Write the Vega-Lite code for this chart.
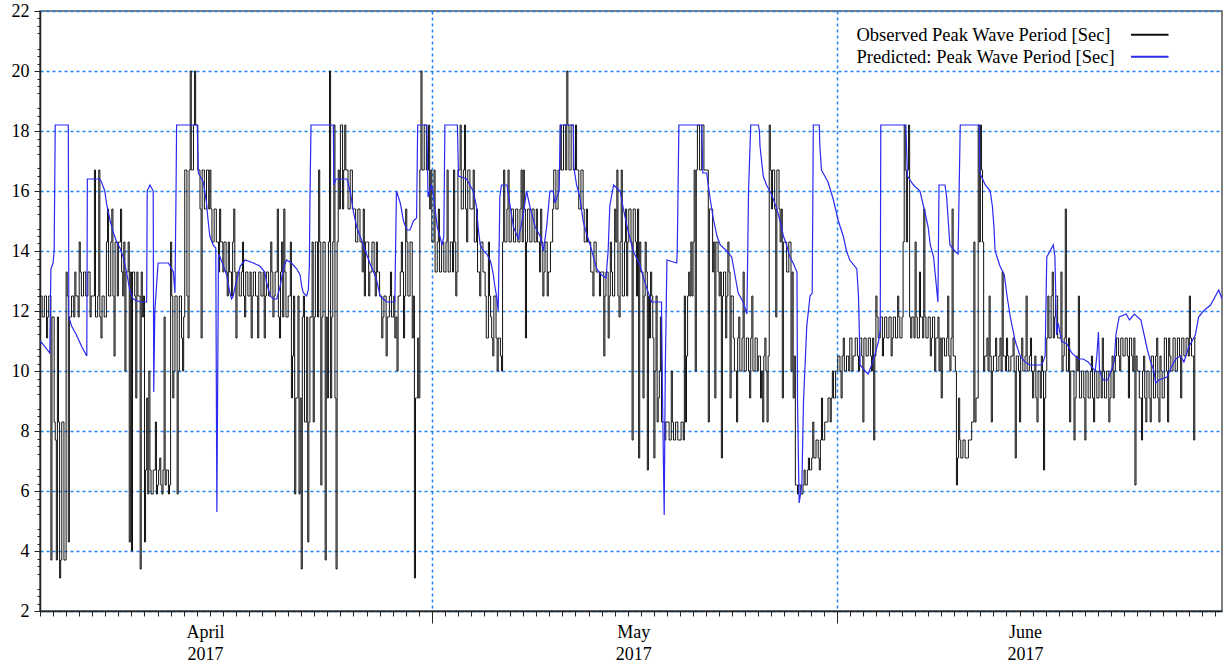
{
"$schema":"https://vega.github.io/schema/vega-lite/v6.json",
"width":1182,"height":600,
"autosize":{"type":"none"},
"padding":{"left":40,"top":11,"right":3,"bottom":58},
"background":"white",
"config":{"view":{"stroke":"#555555","strokeWidth":1.5},"font":"Liberation Serif"},
"datasets":{
"obs":[
{"t":0,"v":12.5},{"t":2,"v":12.5},{"t":4,"v":11.8},{"t":6,"v":11.8},{"t":8,"v":12.5},{"t":10,"v":12.5},{"t":12,"v":11.1},{"t":14,"v":11.8},{"t":16,"v":12.5},{"t":18,"v":12.5},{"t":20,"v":3.7},{"t":22,"v":11.8},
{"t":24,"v":11.8},{"t":26,"v":8.3},{"t":28,"v":7.7},{"t":30,"v":3.7},{"t":32,"v":11.8},{"t":34,"v":8.3},{"t":36,"v":3.1},{"t":38,"v":3.7},{"t":40,"v":8.3},{"t":42,"v":8.3},{"t":44,"v":3.7},{"t":46,"v":3.7},
{"t":48,"v":13.3},{"t":50,"v":12.5},{"t":52,"v":4.3},{"t":54,"v":11.8},{"t":56,"v":11.8},{"t":58,"v":12.5},{"t":60,"v":12.5},{"t":62,"v":11.8},{"t":64,"v":13.3},{"t":66,"v":12.5},{"t":68,"v":12.5},{"t":70,"v":11.8},
{"t":72,"v":14.3},{"t":74,"v":13.3},{"t":76,"v":12.5},{"t":78,"v":12.5},{"t":80,"v":13.3},{"t":82,"v":13.3},{"t":84,"v":12.5},{"t":86,"v":12.5},{"t":88,"v":13.3},{"t":90,"v":13.3},{"t":92,"v":11.8},{"t":94,"v":12.5},
{"t":96,"v":12.5},{"t":98,"v":12.5},{"t":100,"v":16.7},{"t":102,"v":11.8},{"t":104,"v":11.8},{"t":106,"v":12.5},{"t":108,"v":16.7},{"t":110,"v":11.8},{"t":112,"v":11.1},{"t":114,"v":12.5},{"t":116,"v":12.5},{"t":118,"v":11.8},
{"t":120,"v":11.8},{"t":122,"v":14.3},{"t":124,"v":15.4},{"t":126,"v":12.5},{"t":128,"v":12.5},{"t":130,"v":14.3},{"t":132,"v":15.4},{"t":134,"v":12.5},{"t":136,"v":10.5},{"t":138,"v":14.3},{"t":140,"v":14.3},{"t":142,"v":12.5},
{"t":144,"v":14.3},{"t":146,"v":14.3},{"t":148,"v":15.4},{"t":150,"v":13.3},{"t":152,"v":12.5},{"t":154,"v":14.3},{"t":156,"v":10.0},{"t":158,"v":13.3},{"t":160,"v":13.3},{"t":162,"v":14.3},{"t":164,"v":4.3},{"t":166,"v":13.3},
{"t":168,"v":4.0},{"t":170,"v":13.3},{"t":172,"v":13.3},{"t":174,"v":12.5},{"t":176,"v":9.1},{"t":178,"v":13.3},{"t":180,"v":12.5},{"t":182,"v":12.5},{"t":184,"v":3.4},{"t":186,"v":13.3},{"t":188,"v":11.8},{"t":190,"v":12.5},
{"t":192,"v":4.3},{"t":194,"v":6.7},{"t":196,"v":9.1},{"t":198,"v":5.9},{"t":200,"v":10.0},{"t":202,"v":6.7},{"t":204,"v":5.9},{"t":206,"v":5.9},{"t":208,"v":6.7},{"t":210,"v":6.7},{"t":212,"v":8.3},{"t":214,"v":5.9},
{"t":216,"v":6.2},{"t":218,"v":6.7},{"t":220,"v":7.1},{"t":222,"v":6.2},{"t":224,"v":5.9},{"t":226,"v":6.7},{"t":228,"v":11.8},{"t":230,"v":6.2},{"t":232,"v":6.7},{"t":234,"v":6.7},{"t":236,"v":5.9},{"t":238,"v":6.2},
{"t":240,"v":14.3},{"t":242,"v":12.5},{"t":244,"v":9.1},{"t":246,"v":10.0},{"t":248,"v":12.5},{"t":250,"v":12.5},{"t":252,"v":5.9},{"t":254,"v":10.0},{"t":256,"v":12.5},{"t":258,"v":12.5},{"t":260,"v":11.1},{"t":262,"v":10.0},
{"t":264,"v":11.8},{"t":266,"v":16.7},{"t":268,"v":16.7},{"t":270,"v":12.5},{"t":272,"v":11.1},{"t":274,"v":16.7},{"t":276,"v":20.0},{"t":278,"v":16.7},{"t":280,"v":16.7},{"t":282,"v":18.2},{"t":284,"v":20.0},{"t":286,"v":18.2},
{"t":288,"v":18.2},{"t":290,"v":16.7},{"t":292,"v":16.7},{"t":294,"v":15.4},{"t":296,"v":11.1},{"t":298,"v":16.7},{"t":300,"v":16.7},{"t":302,"v":15.4},{"t":304,"v":15.4},{"t":306,"v":16.7},{"t":308,"v":16.7},{"t":310,"v":15.4},
{"t":312,"v":16.7},{"t":314,"v":15.4},{"t":316,"v":14.3},{"t":318,"v":14.3},{"t":320,"v":15.4},{"t":322,"v":15.4},{"t":324,"v":14.3},{"t":326,"v":14.3},{"t":328,"v":13.3},{"t":330,"v":15.4},{"t":332,"v":14.3},{"t":334,"v":14.3},
{"t":336,"v":13.3},{"t":338,"v":14.3},{"t":340,"v":14.3},{"t":342,"v":13.3},{"t":344,"v":12.5},{"t":346,"v":14.3},{"t":348,"v":13.3},{"t":350,"v":13.3},{"t":352,"v":12.5},{"t":354,"v":14.3},{"t":356,"v":15.4},{"t":358,"v":13.3},
{"t":360,"v":11.1},{"t":362,"v":13.3},{"t":364,"v":13.3},{"t":366,"v":12.5},{"t":368,"v":12.5},{"t":370,"v":13.3},{"t":372,"v":14.3},{"t":374,"v":12.5},{"t":376,"v":11.8},{"t":378,"v":13.3},{"t":380,"v":13.3},{"t":382,"v":12.5},
{"t":384,"v":12.5},{"t":386,"v":13.3},{"t":388,"v":11.1},{"t":390,"v":12.5},{"t":392,"v":13.3},{"t":394,"v":13.3},{"t":396,"v":12.5},{"t":398,"v":12.5},{"t":400,"v":11.1},{"t":402,"v":13.3},{"t":404,"v":13.3},{"t":406,"v":12.5},
{"t":408,"v":12.5},{"t":410,"v":13.3},{"t":412,"v":11.1},{"t":414,"v":12.5},{"t":416,"v":13.3},{"t":418,"v":13.3},{"t":420,"v":12.5},{"t":422,"v":12.5},{"t":424,"v":14.3},{"t":426,"v":13.3},{"t":428,"v":11.8},{"t":430,"v":12.5},
{"t":432,"v":13.3},{"t":434,"v":13.3},{"t":436,"v":15.4},{"t":438,"v":11.8},{"t":440,"v":11.1},{"t":442,"v":13.3},{"t":444,"v":14.3},{"t":446,"v":11.8},{"t":448,"v":15.4},{"t":450,"v":13.3},{"t":452,"v":11.8},{"t":454,"v":11.8},
{"t":456,"v":12.5},{"t":458,"v":12.5},{"t":460,"v":14.3},{"t":462,"v":9.1},{"t":464,"v":10.5},{"t":466,"v":12.5},{"t":468,"v":5.9},{"t":470,"v":9.1},{"t":472,"v":9.1},{"t":474,"v":12.5},{"t":476,"v":5.9},{"t":478,"v":9.1},
{"t":480,"v":3.4},{"t":482,"v":11.8},{"t":484,"v":12.5},{"t":486,"v":8.3},{"t":488,"v":8.3},{"t":490,"v":11.8},{"t":492,"v":4.3},{"t":494,"v":8.3},{"t":496,"v":11.8},{"t":498,"v":11.8},{"t":500,"v":14.3},{"t":502,"v":8.3},
{"t":504,"v":11.8},{"t":506,"v":14.3},{"t":508,"v":14.3},{"t":510,"v":11.8},{"t":512,"v":16.7},{"t":514,"v":14.3},{"t":516,"v":6.2},{"t":518,"v":11.8},{"t":520,"v":14.3},{"t":522,"v":14.3},{"t":524,"v":3.7},{"t":526,"v":11.8},
{"t":528,"v":9.1},{"t":530,"v":14.3},{"t":532,"v":20.0},{"t":534,"v":9.1},{"t":536,"v":11.8},{"t":538,"v":14.3},{"t":540,"v":18.2},{"t":542,"v":9.1},{"t":544,"v":3.4},{"t":546,"v":14.3},{"t":548,"v":16.7},{"t":550,"v":15.4},
{"t":552,"v":18.2},{"t":554,"v":18.2},{"t":556,"v":15.4},{"t":558,"v":16.7},{"t":560,"v":18.2},{"t":562,"v":16.7},{"t":564,"v":16.7},{"t":566,"v":15.4},{"t":568,"v":15.4},{"t":570,"v":16.7},{"t":572,"v":16.7},{"t":574,"v":15.4},
{"t":576,"v":15.4},{"t":578,"v":15.4},{"t":580,"v":14.3},{"t":582,"v":14.3},{"t":584,"v":15.4},{"t":586,"v":15.4},{"t":588,"v":14.3},{"t":590,"v":14.3},{"t":592,"v":13.3},{"t":594,"v":15.4},{"t":596,"v":12.5},{"t":598,"v":14.3},
{"t":600,"v":14.3},{"t":602,"v":14.3},{"t":604,"v":12.5},{"t":606,"v":13.3},{"t":608,"v":13.3},{"t":610,"v":14.3},{"t":612,"v":14.3},{"t":614,"v":13.3},{"t":616,"v":12.5},{"t":618,"v":14.3},{"t":620,"v":13.3},{"t":622,"v":13.3},
{"t":624,"v":12.5},{"t":626,"v":12.5},{"t":628,"v":11.1},{"t":630,"v":11.8},{"t":632,"v":12.5},{"t":634,"v":12.5},{"t":636,"v":10.5},{"t":638,"v":11.8},{"t":640,"v":11.8},{"t":642,"v":12.5},{"t":644,"v":13.3},{"t":646,"v":11.8},
{"t":648,"v":11.8},{"t":650,"v":12.5},{"t":652,"v":11.1},{"t":654,"v":11.8},{"t":656,"v":10.0},{"t":658,"v":12.5},{"t":660,"v":12.5},{"t":662,"v":13.3},{"t":664,"v":14.3},{"t":666,"v":13.3},{"t":668,"v":11.1},{"t":670,"v":12.5},
{"t":672,"v":15.4},{"t":674,"v":14.3},{"t":676,"v":12.5},{"t":678,"v":12.5},{"t":680,"v":14.3},{"t":682,"v":14.3},{"t":684,"v":11.1},{"t":686,"v":12.5},{"t":688,"v":3.1},{"t":690,"v":9.1},{"t":692,"v":9.1},{"t":694,"v":11.1},
{"t":696,"v":9.1},{"t":698,"v":16.7},{"t":700,"v":20.0},{"t":702,"v":16.7},{"t":704,"v":16.7},{"t":706,"v":18.2},{"t":708,"v":18.2},{"t":710,"v":16.7},{"t":712,"v":16.7},{"t":714,"v":18.2},{"t":716,"v":15.4},{"t":718,"v":16.7},
{"t":720,"v":14.3},{"t":722,"v":14.3},{"t":724,"v":16.7},{"t":726,"v":13.3},{"t":728,"v":13.3},{"t":730,"v":14.3},{"t":732,"v":15.4},{"t":734,"v":13.3},{"t":736,"v":13.3},{"t":738,"v":14.3},{"t":740,"v":14.3},{"t":742,"v":13.3},
{"t":744,"v":13.3},{"t":746,"v":14.3},{"t":748,"v":16.7},{"t":750,"v":13.3},{"t":752,"v":13.3},{"t":754,"v":14.3},{"t":756,"v":14.3},{"t":758,"v":13.3},{"t":760,"v":16.7},{"t":762,"v":14.3},{"t":764,"v":12.5},{"t":766,"v":13.3},
{"t":768,"v":16.7},{"t":770,"v":16.7},{"t":772,"v":18.2},{"t":774,"v":15.4},{"t":776,"v":15.4},{"t":778,"v":16.7},{"t":780,"v":18.2},{"t":782,"v":15.4},{"t":784,"v":14.3},{"t":786,"v":16.7},{"t":788,"v":16.7},{"t":790,"v":15.4},
{"t":792,"v":15.4},{"t":794,"v":15.4},{"t":796,"v":16.7},{"t":798,"v":14.3},{"t":800,"v":14.3},{"t":802,"v":15.4},{"t":804,"v":13.3},{"t":806,"v":13.3},{"t":808,"v":12.5},{"t":810,"v":14.3},{"t":812,"v":14.3},{"t":814,"v":13.3},
{"t":816,"v":13.3},{"t":818,"v":12.5},{"t":820,"v":11.1},{"t":822,"v":11.1},{"t":824,"v":14.3},{"t":826,"v":12.5},{"t":828,"v":11.8},{"t":830,"v":11.1},{"t":832,"v":10.5},{"t":834,"v":12.5},{"t":836,"v":12.5},{"t":838,"v":11.1},
{"t":840,"v":10.0},{"t":842,"v":11.1},{"t":844,"v":11.1},{"t":846,"v":10.5},{"t":848,"v":10.0},{"t":850,"v":14.3},{"t":852,"v":16.7},{"t":854,"v":14.3},{"t":856,"v":14.3},{"t":858,"v":15.4},{"t":860,"v":16.7},{"t":862,"v":14.3},
{"t":864,"v":14.3},{"t":866,"v":15.4},{"t":868,"v":15.4},{"t":870,"v":14.3},{"t":872,"v":14.3},{"t":874,"v":15.4},{"t":876,"v":15.4},{"t":878,"v":14.3},{"t":880,"v":14.3},{"t":882,"v":15.4},{"t":884,"v":16.7},{"t":886,"v":14.3},
{"t":888,"v":16.7},{"t":890,"v":15.4},{"t":892,"v":11.1},{"t":894,"v":14.3},{"t":896,"v":15.4},{"t":898,"v":15.4},{"t":900,"v":14.3},{"t":902,"v":14.3},{"t":904,"v":15.4},{"t":906,"v":15.4},{"t":908,"v":14.3},{"t":910,"v":14.3},
{"t":912,"v":15.4},{"t":914,"v":14.3},{"t":916,"v":14.3},{"t":918,"v":13.3},{"t":920,"v":15.4},{"t":922,"v":14.3},{"t":924,"v":12.5},{"t":926,"v":13.3},{"t":928,"v":14.3},{"t":930,"v":14.3},{"t":932,"v":12.5},{"t":934,"v":13.3},
{"t":936,"v":13.3},{"t":938,"v":14.3},{"t":940,"v":14.3},{"t":942,"v":15.4},{"t":944,"v":16.7},{"t":946,"v":16.7},{"t":948,"v":15.4},{"t":950,"v":15.4},{"t":952,"v":16.7},{"t":954,"v":16.7},{"t":956,"v":18.2},{"t":958,"v":16.7},
{"t":960,"v":16.7},{"t":962,"v":18.2},{"t":964,"v":18.2},{"t":966,"v":16.7},{"t":968,"v":20.0},{"t":970,"v":18.2},{"t":972,"v":16.7},{"t":974,"v":16.7},{"t":976,"v":18.2},{"t":978,"v":18.2},{"t":980,"v":16.7},{"t":982,"v":16.7},
{"t":984,"v":18.2},{"t":986,"v":16.7},{"t":988,"v":16.7},{"t":990,"v":15.4},{"t":992,"v":15.4},{"t":994,"v":16.7},{"t":996,"v":16.7},{"t":998,"v":15.4},{"t":1000,"v":14.3},{"t":1002,"v":14.3},{"t":1004,"v":15.4},{"t":1006,"v":14.3},
{"t":1008,"v":14.3},{"t":1010,"v":14.3},{"t":1012,"v":13.3},{"t":1014,"v":13.3},{"t":1016,"v":12.5},{"t":1018,"v":14.3},{"t":1020,"v":14.3},{"t":1022,"v":13.3},{"t":1024,"v":13.3},{"t":1026,"v":13.3},{"t":1028,"v":12.5},{"t":1030,"v":13.3},
{"t":1032,"v":13.3},{"t":1034,"v":13.3},{"t":1036,"v":10.5},{"t":1038,"v":12.5},{"t":1040,"v":13.3},{"t":1042,"v":13.3},{"t":1044,"v":11.1},{"t":1046,"v":12.5},{"t":1048,"v":14.3},{"t":1050,"v":13.3},{"t":1052,"v":12.5},{"t":1054,"v":12.5},
{"t":1056,"v":15.4},{"t":1058,"v":14.3},{"t":1060,"v":16.7},{"t":1062,"v":12.5},{"t":1064,"v":11.8},{"t":1066,"v":14.3},{"t":1068,"v":16.7},{"t":1070,"v":12.5},{"t":1072,"v":12.5},{"t":1074,"v":14.3},{"t":1076,"v":15.4},{"t":1078,"v":12.5},
{"t":1080,"v":14.3},{"t":1082,"v":15.4},{"t":1084,"v":15.4},{"t":1086,"v":14.3},{"t":1088,"v":7.7},{"t":1090,"v":15.4},{"t":1092,"v":15.4},{"t":1094,"v":14.3},{"t":1096,"v":12.5},{"t":1098,"v":15.4},{"t":1100,"v":7.1},{"t":1102,"v":14.3},
{"t":1104,"v":13.3},{"t":1106,"v":13.3},{"t":1108,"v":9.1},{"t":1110,"v":12.5},{"t":1112,"v":14.3},{"t":1114,"v":13.3},{"t":1116,"v":6.7},{"t":1118,"v":12.5},{"t":1120,"v":11.1},{"t":1122,"v":13.3},{"t":1124,"v":12.5},{"t":1126,"v":11.1},
{"t":1128,"v":7.1},{"t":1130,"v":10.0},{"t":1132,"v":12.5},{"t":1134,"v":8.3},{"t":1136,"v":9.1},{"t":1138,"v":10.0},{"t":1140,"v":11.8},{"t":1142,"v":8.3},{"t":1144,"v":8.3},{"t":1146,"v":8.3},{"t":1148,"v":7.7},{"t":1150,"v":8.3},
{"t":1152,"v":8.3},{"t":1154,"v":8.3},{"t":1156,"v":7.7},{"t":1158,"v":7.7},{"t":1160,"v":10.0},{"t":1162,"v":8.3},{"t":1164,"v":7.7},{"t":1166,"v":7.7},{"t":1168,"v":8.3},{"t":1170,"v":8.3},{"t":1172,"v":7.7},{"t":1174,"v":7.7},
{"t":1176,"v":7.7},{"t":1178,"v":8.3},{"t":1180,"v":8.3},{"t":1182,"v":7.7},{"t":1184,"v":12.5},{"t":1186,"v":8.3},{"t":1188,"v":10.5},{"t":1190,"v":12.5},{"t":1192,"v":13.3},{"t":1194,"v":12.5},{"t":1196,"v":14.3},{"t":1198,"v":12.5},
{"t":1200,"v":14.3},{"t":1202,"v":16.7},{"t":1204,"v":10.0},{"t":1206,"v":16.7},{"t":1208,"v":18.2},{"t":1210,"v":18.2},{"t":1212,"v":16.7},{"t":1214,"v":16.7},{"t":1216,"v":18.2},{"t":1218,"v":18.2},{"t":1220,"v":16.7},{"t":1222,"v":16.7},
{"t":1224,"v":16.7},{"t":1226,"v":16.7},{"t":1228,"v":8.3},{"t":1230,"v":15.4},{"t":1232,"v":15.4},{"t":1234,"v":15.4},{"t":1236,"v":13.3},{"t":1238,"v":14.3},{"t":1240,"v":9.1},{"t":1242,"v":14.3},{"t":1244,"v":14.3},{"t":1246,"v":13.3},
{"t":1248,"v":12.5},{"t":1250,"v":13.3},{"t":1252,"v":7.1},{"t":1254,"v":12.5},{"t":1256,"v":13.3},{"t":1258,"v":13.3},{"t":1260,"v":11.1},{"t":1262,"v":12.5},{"t":1264,"v":14.3},{"t":1266,"v":13.3},{"t":1268,"v":9.1},{"t":1270,"v":12.5},
{"t":1272,"v":12.5},{"t":1274,"v":11.1},{"t":1276,"v":10.0},{"t":1278,"v":10.0},{"t":1280,"v":8.3},{"t":1282,"v":11.1},{"t":1284,"v":11.8},{"t":1286,"v":10.0},{"t":1288,"v":10.0},{"t":1290,"v":11.1},{"t":1292,"v":13.3},{"t":1294,"v":10.0},
{"t":1296,"v":10.0},{"t":1298,"v":11.1},{"t":1300,"v":11.1},{"t":1302,"v":10.0},{"t":1304,"v":9.1},{"t":1306,"v":11.1},{"t":1308,"v":12.5},{"t":1310,"v":10.0},{"t":1312,"v":10.0},{"t":1314,"v":11.1},{"t":1316,"v":11.1},{"t":1318,"v":10.0},
{"t":1320,"v":10.5},{"t":1322,"v":10.5},{"t":1324,"v":9.1},{"t":1326,"v":10.0},{"t":1328,"v":8.3},{"t":1330,"v":10.5},{"t":1332,"v":11.1},{"t":1334,"v":10.0},{"t":1336,"v":8.3},{"t":1338,"v":10.5},{"t":1340,"v":18.2},{"t":1342,"v":16.7},
{"t":1344,"v":15.4},{"t":1346,"v":16.7},{"t":1348,"v":16.7},{"t":1350,"v":15.4},{"t":1352,"v":11.8},{"t":1354,"v":16.7},{"t":1356,"v":16.7},{"t":1358,"v":15.4},{"t":1360,"v":14.3},{"t":1362,"v":15.4},{"t":1364,"v":9.1},{"t":1366,"v":14.3},
{"t":1368,"v":14.3},{"t":1370,"v":14.3},{"t":1372,"v":13.3},{"t":1374,"v":13.3},{"t":1376,"v":14.3},{"t":1378,"v":14.3},{"t":1380,"v":10.0},{"t":1382,"v":13.3},{"t":1384,"v":9.1},{"t":1386,"v":10.5},{"t":1388,"v":6.2},{"t":1390,"v":6.2},
{"t":1392,"v":5.9},{"t":1394,"v":6.2},{"t":1396,"v":6.2},{"t":1398,"v":5.9},{"t":1400,"v":5.9},{"t":1402,"v":6.2},{"t":1404,"v":6.7},{"t":1406,"v":6.2},{"t":1408,"v":6.2},{"t":1410,"v":6.7},{"t":1412,"v":7.1},{"t":1414,"v":6.7},
{"t":1416,"v":6.7},{"t":1418,"v":7.1},{"t":1420,"v":8.3},{"t":1422,"v":7.1},{"t":1424,"v":7.1},{"t":1426,"v":7.7},{"t":1428,"v":7.7},{"t":1430,"v":7.1},{"t":1432,"v":6.7},{"t":1434,"v":7.7},{"t":1436,"v":9.1},{"t":1438,"v":7.7},
{"t":1440,"v":7.7},{"t":1442,"v":8.3},{"t":1444,"v":8.3},{"t":1446,"v":8.3},{"t":1448,"v":9.1},{"t":1450,"v":9.1},{"t":1452,"v":8.3},{"t":1454,"v":9.1},{"t":1456,"v":10.0},{"t":1458,"v":9.1},{"t":1460,"v":9.1},{"t":1462,"v":10.0},
{"t":1464,"v":10.0},{"t":1466,"v":10.5},{"t":1468,"v":10.5},{"t":1470,"v":10.0},{"t":1472,"v":9.1},{"t":1474,"v":10.5},{"t":1476,"v":11.1},{"t":1478,"v":10.0},{"t":1480,"v":10.0},{"t":1482,"v":10.5},{"t":1484,"v":10.5},{"t":1486,"v":10.0},
{"t":1488,"v":11.1},{"t":1490,"v":11.1},{"t":1492,"v":10.0},{"t":1494,"v":10.5},{"t":1496,"v":10.5},{"t":1498,"v":11.1},{"t":1500,"v":11.1},{"t":1502,"v":10.5},{"t":1504,"v":10.0},{"t":1506,"v":11.1},{"t":1508,"v":11.1},{"t":1510,"v":10.5},
{"t":1512,"v":8.3},{"t":1514,"v":11.1},{"t":1516,"v":11.1},{"t":1518,"v":10.5},{"t":1520,"v":10.5},{"t":1522,"v":11.1},{"t":1524,"v":11.1},{"t":1526,"v":10.5},{"t":1528,"v":10.0},{"t":1530,"v":11.1},{"t":1532,"v":7.7},{"t":1534,"v":10.5},
{"t":1536,"v":12.5},{"t":1538,"v":11.8},{"t":1540,"v":11.1},{"t":1542,"v":11.1},{"t":1544,"v":11.8},{"t":1546,"v":11.8},{"t":1548,"v":10.5},{"t":1550,"v":11.1},{"t":1552,"v":11.8},{"t":1554,"v":11.8},{"t":1556,"v":11.1},{"t":1558,"v":11.1},
{"t":1560,"v":11.8},{"t":1562,"v":11.8},{"t":1564,"v":10.5},{"t":1566,"v":11.1},{"t":1568,"v":11.8},{"t":1570,"v":11.8},{"t":1572,"v":11.1},{"t":1574,"v":11.1},{"t":1576,"v":12.5},{"t":1578,"v":11.8},{"t":1580,"v":11.1},{"t":1582,"v":11.1},
{"t":1584,"v":11.8},{"t":1586,"v":14.3},{"t":1588,"v":18.2},{"t":1590,"v":16.7},{"t":1592,"v":14.3},{"t":1594,"v":16.7},{"t":1596,"v":18.2},{"t":1598,"v":11.8},{"t":1600,"v":11.1},{"t":1602,"v":11.8},{"t":1604,"v":11.8},{"t":1606,"v":11.1},
{"t":1608,"v":14.3},{"t":1610,"v":11.8},{"t":1612,"v":11.1},{"t":1614,"v":11.1},{"t":1616,"v":13.3},{"t":1618,"v":11.8},{"t":1620,"v":11.8},{"t":1622,"v":11.1},{"t":1624,"v":15.4},{"t":1626,"v":11.8},{"t":1628,"v":11.1},{"t":1630,"v":11.1},
{"t":1632,"v":11.8},{"t":1634,"v":11.8},{"t":1636,"v":10.5},{"t":1638,"v":11.1},{"t":1640,"v":11.8},{"t":1642,"v":11.8},{"t":1644,"v":10.0},{"t":1646,"v":11.1},{"t":1648,"v":11.1},{"t":1650,"v":11.8},{"t":1652,"v":10.0},{"t":1654,"v":11.1},
{"t":1656,"v":9.1},{"t":1658,"v":11.1},{"t":1660,"v":11.1},{"t":1662,"v":10.5},{"t":1664,"v":10.5},{"t":1666,"v":11.1},{"t":1668,"v":12.5},{"t":1670,"v":10.5},{"t":1672,"v":10.0},{"t":1674,"v":11.1},{"t":1676,"v":15.4},{"t":1678,"v":10.5},
{"t":1680,"v":10.5},{"t":1682,"v":10.0},{"t":1684,"v":6.2},{"t":1686,"v":7.1},{"t":1688,"v":9.1},{"t":1690,"v":7.7},{"t":1692,"v":7.1},{"t":1694,"v":7.1},{"t":1696,"v":7.7},{"t":1698,"v":7.7},{"t":1700,"v":7.1},{"t":1702,"v":7.1},
{"t":1704,"v":7.1},{"t":1706,"v":7.7},{"t":1708,"v":7.7},{"t":1710,"v":7.7},{"t":1712,"v":8.3},{"t":1714,"v":8.3},{"t":1716,"v":14.3},{"t":1718,"v":8.3},{"t":1720,"v":9.1},{"t":1722,"v":9.1},{"t":1724,"v":18.2},{"t":1726,"v":14.3},
{"t":1728,"v":18.2},{"t":1730,"v":16.7},{"t":1732,"v":14.3},{"t":1734,"v":10.0},{"t":1736,"v":10.5},{"t":1738,"v":10.5},{"t":1740,"v":11.1},{"t":1742,"v":10.0},{"t":1744,"v":12.5},{"t":1746,"v":10.5},{"t":1748,"v":8.3},{"t":1750,"v":10.0},
{"t":1752,"v":10.5},{"t":1754,"v":10.5},{"t":1756,"v":11.1},{"t":1758,"v":10.0},{"t":1760,"v":10.0},{"t":1762,"v":10.5},{"t":1764,"v":11.1},{"t":1766,"v":10.0},{"t":1768,"v":13.3},{"t":1770,"v":10.5},{"t":1772,"v":10.5},{"t":1774,"v":10.0},
{"t":1776,"v":11.1},{"t":1778,"v":10.5},{"t":1780,"v":10.0},{"t":1782,"v":10.0},{"t":1784,"v":10.5},{"t":1786,"v":10.5},{"t":1788,"v":11.1},{"t":1790,"v":10.0},{"t":1792,"v":7.1},{"t":1794,"v":10.5},{"t":1796,"v":10.5},{"t":1798,"v":10.0},
{"t":1800,"v":8.3},{"t":1802,"v":10.5},{"t":1804,"v":11.1},{"t":1806,"v":10.0},{"t":1808,"v":10.0},{"t":1810,"v":10.5},{"t":1812,"v":12.5},{"t":1814,"v":10.0},{"t":1816,"v":10.0},{"t":1818,"v":10.5},{"t":1820,"v":11.1},{"t":1822,"v":10.0},
{"t":1824,"v":9.1},{"t":1826,"v":10.0},{"t":1828,"v":10.5},{"t":1830,"v":9.1},{"t":1832,"v":8.3},{"t":1834,"v":10.0},{"t":1836,"v":10.0},{"t":1838,"v":9.1},{"t":1840,"v":10.5},{"t":1842,"v":10.0},{"t":1844,"v":6.7},{"t":1846,"v":9.1},
{"t":1848,"v":10.0},{"t":1850,"v":11.1},{"t":1852,"v":12.5},{"t":1854,"v":11.1},{"t":1856,"v":11.1},{"t":1858,"v":12.5},{"t":1860,"v":13.3},{"t":1862,"v":11.1},{"t":1864,"v":11.8},{"t":1866,"v":12.5},{"t":1868,"v":12.5},{"t":1870,"v":11.1},
{"t":1872,"v":11.1},{"t":1874,"v":11.1},{"t":1876,"v":13.3},{"t":1878,"v":10.0},{"t":1880,"v":10.5},{"t":1882,"v":11.1},{"t":1884,"v":15.4},{"t":1886,"v":10.0},{"t":1888,"v":10.0},{"t":1890,"v":11.1},{"t":1892,"v":8.3},{"t":1894,"v":10.0},
{"t":1896,"v":10.0},{"t":1898,"v":10.0},{"t":1900,"v":7.7},{"t":1902,"v":9.1},{"t":1904,"v":10.5},{"t":1906,"v":10.0},{"t":1908,"v":12.5},{"t":1910,"v":9.1},{"t":1912,"v":9.1},{"t":1914,"v":10.0},{"t":1916,"v":10.0},{"t":1918,"v":9.1},
{"t":1920,"v":7.7},{"t":1922,"v":10.0},{"t":1924,"v":10.0},{"t":1926,"v":9.1},{"t":1928,"v":9.1},{"t":1930,"v":10.0},{"t":1932,"v":10.5},{"t":1934,"v":9.1},{"t":1936,"v":8.3},{"t":1938,"v":10.0},{"t":1940,"v":10.0},{"t":1942,"v":9.1},
{"t":1944,"v":9.1},{"t":1946,"v":10.0},{"t":1948,"v":10.0},{"t":1950,"v":9.1},{"t":1952,"v":11.1},{"t":1954,"v":10.0},{"t":1956,"v":9.1},{"t":1958,"v":9.1},{"t":1960,"v":10.0},{"t":1962,"v":10.0},{"t":1964,"v":8.3},{"t":1966,"v":9.1},
{"t":1968,"v":10.0},{"t":1970,"v":10.5},{"t":1972,"v":9.1},{"t":1974,"v":10.0},{"t":1976,"v":10.5},{"t":1978,"v":11.1},{"t":1980,"v":11.1},{"t":1982,"v":10.5},{"t":1984,"v":10.0},{"t":1986,"v":11.1},{"t":1988,"v":11.1},{"t":1990,"v":10.5},
{"t":1992,"v":10.5},{"t":1994,"v":11.1},{"t":1996,"v":11.1},{"t":1998,"v":10.5},{"t":2000,"v":9.1},{"t":2002,"v":11.1},{"t":2004,"v":11.1},{"t":2006,"v":10.5},{"t":2008,"v":10.0},{"t":2010,"v":11.1},{"t":2012,"v":6.2},{"t":2014,"v":10.5},
{"t":2016,"v":10.0},{"t":2018,"v":10.0},{"t":2020,"v":9.1},{"t":2022,"v":9.1},{"t":2024,"v":7.7},{"t":2026,"v":10.0},{"t":2028,"v":10.5},{"t":2030,"v":9.1},{"t":2032,"v":8.3},{"t":2034,"v":10.0},{"t":2036,"v":10.0},{"t":2038,"v":9.1},
{"t":2040,"v":8.3},{"t":2042,"v":10.5},{"t":2044,"v":10.5},{"t":2046,"v":9.1},{"t":2048,"v":9.1},{"t":2050,"v":10.5},{"t":2052,"v":11.1},{"t":2054,"v":9.1},{"t":2056,"v":8.3},{"t":2058,"v":10.5},{"t":2060,"v":10.0},{"t":2062,"v":9.1},
{"t":2064,"v":9.1},{"t":2066,"v":11.1},{"t":2068,"v":11.1},{"t":2070,"v":10.0},{"t":2072,"v":8.3},{"t":2074,"v":11.1},{"t":2076,"v":10.5},{"t":2078,"v":10.0},{"t":2080,"v":10.0},{"t":2082,"v":11.1},{"t":2084,"v":11.1},{"t":2086,"v":10.0},
{"t":2088,"v":10.0},{"t":2090,"v":11.1},{"t":2092,"v":11.1},{"t":2094,"v":10.5},{"t":2096,"v":9.1},{"t":2098,"v":11.1},{"t":2100,"v":11.1},{"t":2102,"v":10.5},{"t":2104,"v":10.5},{"t":2106,"v":11.1},{"t":2108,"v":11.1},{"t":2110,"v":10.5},
{"t":2112,"v":12.5},{"t":2114,"v":11.1},{"t":2116,"v":10.5},{"t":2118,"v":10.5},{"t":2120,"v":7.7},{"t":2122,"v":11.1},{"t":2124,"v":11.1}
],
"pred":[
{"t":0,"v":11.0},{"t":5,"v":10.9},{"t":18,"v":10.6},{"t":20,"v":13.4},{"t":24,"v":13.6},{"t":26,"v":14.0},{"t":28,"v":18.2},{"t":52,"v":18.2},{"t":53,"v":11.8},{"t":58,"v":11.5},{"t":67,"v":11.2},{"t":77,"v":10.8},{"t":86,"v":10.5},{"t":87,"v":16.4},{"t":110,"v":16.4},{"t":113,"v":16.3},{"t":119,"v":16.0},{"t":123,"v":15.5},{"t":129,"v":15.0},{"t":135,"v":14.6},{"t":141,"v":14.3},{"t":147,"v":14.1},{"t":153,"v":13.8},{"t":159,"v":13.3},{"t":165,"v":12.7},{"t":171,"v":12.4},{"t":184,"v":12.3},{"t":196,"v":12.3},{"t":197,"v":16.0},{"t":202,"v":16.2},{"t":208,"v":16.0},{"t":209,"v":9.3},{"t":211,"v":12.0},{"t":217,"v":13.6},{"t":236,"v":13.6},{"t":245,"v":13.3},{"t":248,"v":12.6},{"t":250,"v":16.0},{"t":251,"v":18.2},{"t":289,"v":18.2},{"t":291,"v":16.6},{"t":294,"v":16.5},{"t":300,"v":16.3},{"t":306,"v":15.6},{"t":309,"v":15.0},{"t":312,"v":14.5},{"t":318,"v":14.2},{"t":323,"v":14.1},{"t":325,"v":5.3},{"t":328,"v":13.9},{"t":331,"v":13.8},{"t":337,"v":13.5},{"t":343,"v":13.2},{"t":349,"v":12.6},{"t":352,"v":12.4},{"t":355,"v":12.5},{"t":361,"v":13.0},{"t":368,"v":13.5},{"t":377,"v":13.7},{"t":392,"v":13.6},{"t":404,"v":13.5},{"t":413,"v":13.3},{"t":417,"v":12.9},{"t":423,"v":12.5},{"t":429,"v":12.4},{"t":435,"v":12.4},{"t":441,"v":12.8},{"t":447,"v":13.4},{"t":453,"v":13.7},{"t":462,"v":13.6},{"t":472,"v":13.4},{"t":478,"v":13.2},{"t":481,"v":12.8},{"t":484,"v":12.6},{"t":490,"v":12.5},{"t":493,"v":12.7},{"t":495,"v":13.5},{"t":496,"v":15.6},{"t":498,"v":18.2},{"t":539,"v":18.2},{"t":540,"v":16.2},{"t":544,"v":16.4},{"t":564,"v":16.4},{"t":570,"v":16.0},{"t":576,"v":15.3},{"t":582,"v":14.8},{"t":588,"v":14.5},{"t":594,"v":14.2},{"t":600,"v":13.9},{"t":606,"v":13.6},{"t":613,"v":13.3},{"t":619,"v":13.0},{"t":625,"v":12.5},{"t":631,"v":12.4},{"t":637,"v":12.3},{"t":652,"v":12.3},{"t":655,"v":16.0},{"t":662,"v":15.6},{"t":668,"v":15.0},{"t":674,"v":14.7},{"t":680,"v":14.7},{"t":686,"v":15.0},{"t":692,"v":15.1},{"t":694,"v":18.2},{"t":711,"v":18.2},{"t":713,"v":15.8},{"t":719,"v":16.2},{"t":722,"v":16.0},{"t":730,"v":14.8},{"t":739,"v":14.2},{"t":742,"v":14.5},{"t":744,"v":18.2},{"t":767,"v":18.2},{"t":769,"v":16.5},{"t":784,"v":16.4},{"t":790,"v":16.2},{"t":796,"v":16.0},{"t":802,"v":15.5},{"t":805,"v":14.8},{"t":809,"v":14.2},{"t":815,"v":14.0},{"t":821,"v":13.9},{"t":827,"v":13.7},{"t":830,"v":13.5},{"t":833,"v":13.2},{"t":836,"v":12.8},{"t":839,"v":12.5},{"t":842,"v":12.0},{"t":845,"v":15.8},{"t":848,"v":16.2},{"t":858,"v":16.2},{"t":864,"v":15.5},{"t":870,"v":14.8},{"t":879,"v":14.4},{"t":888,"v":15.2},{"t":894,"v":16.0},{"t":900,"v":15.5},{"t":910,"v":14.8},{"t":919,"v":14.5},{"t":925,"v":14.0},{"t":931,"v":14.8},{"t":937,"v":16.0},{"t":943,"v":16.0},{"t":946,"v":15.6},{"t":954,"v":16.0},{"t":956,"v":18.2},{"t":980,"v":18.2},{"t":981,"v":16.8},{"t":986,"v":16.2},{"t":992,"v":15.8},{"t":998,"v":15.0},{"t":1004,"v":14.6},{"t":1011,"v":14.2},{"t":1017,"v":13.8},{"t":1023,"v":13.4},{"t":1032,"v":13.2},{"t":1040,"v":13.1},{"t":1044,"v":14.0},{"t":1047,"v":15.5},{"t":1054,"v":16.2},{"t":1066,"v":16.0},{"t":1072,"v":15.4},{"t":1079,"v":14.8},{"t":1090,"v":14.0},{"t":1103,"v":13.5},{"t":1109,"v":13.1},{"t":1118,"v":12.6},{"t":1124,"v":12.3},{"t":1142,"v":12.3},{"t":1144,"v":9.0},{"t":1147,"v":5.2},{"t":1149,"v":10.0},{"t":1152,"v":13.7},{"t":1170,"v":13.6},{"t":1171,"v":14.0},{"t":1174,"v":18.2},{"t":1216,"v":18.2},{"t":1218,"v":16.6},{"t":1225,"v":16.6},{"t":1231,"v":15.8},{"t":1237,"v":15.1},{"t":1244,"v":14.5},{"t":1250,"v":14.2},{"t":1262,"v":14.0},{"t":1271,"v":13.8},{"t":1277,"v":13.2},{"t":1283,"v":12.6},{"t":1292,"v":12.3},{"t":1299,"v":11.9},{"t":1302,"v":16.0},{"t":1306,"v":18.2},{"t":1320,"v":18.2},{"t":1322,"v":18.0},{"t":1323,"v":17.5},{"t":1329,"v":16.5},{"t":1335,"v":16.2},{"t":1344,"v":15.9},{"t":1354,"v":15.4},{"t":1360,"v":15.0},{"t":1366,"v":14.5},{"t":1372,"v":14.2},{"t":1378,"v":13.8},{"t":1384,"v":13.6},{"t":1391,"v":13.3},{"t":1392,"v":9.0},{"t":1395,"v":5.6},{"t":1400,"v":6.2},{"t":1403,"v":9.0},{"t":1409,"v":11.5},{"t":1415,"v":12.5},{"t":1419,"v":12.6},{"t":1421,"v":18.2},{"t":1432,"v":18.2},{"t":1433,"v":17.5},{"t":1436,"v":16.7},{"t":1442,"v":16.5},{"t":1448,"v":16.3},{"t":1458,"v":15.7},{"t":1467,"v":15.0},{"t":1476,"v":14.5},{"t":1482,"v":14.0},{"t":1488,"v":13.7},{"t":1501,"v":13.4},{"t":1504,"v":12.5},{"t":1506,"v":11.0},{"t":1507,"v":10.2},{"t":1516,"v":10.0},{"t":1522,"v":9.9},{"t":1528,"v":10.2},{"t":1535,"v":10.6},{"t":1541,"v":11.0},{"t":1544,"v":11.4},{"t":1545,"v":18.2},{"t":1591,"v":18.2},{"t":1594,"v":16.5},{"t":1605,"v":16.2},{"t":1617,"v":16.0},{"t":1626,"v":15.3},{"t":1632,"v":14.8},{"t":1636,"v":14.2},{"t":1642,"v":13.8},{"t":1650,"v":12.3},{"t":1652,"v":16.2},{"t":1663,"v":16.2},{"t":1666,"v":15.8},{"t":1669,"v":15.0},{"t":1672,"v":14.2},{"t":1681,"v":14.0},{"t":1687,"v":13.9},{"t":1691,"v":18.2},{"t":1726,"v":18.2},{"t":1727,"v":16.6},{"t":1737,"v":16.2},{"t":1746,"v":16.0},{"t":1750,"v":15.5},{"t":1753,"v":14.8},{"t":1755,"v":14.0},{"t":1764,"v":13.5},{"t":1772,"v":13.2},{"t":1777,"v":12.5},{"t":1783,"v":11.8},{"t":1792,"v":11.0},{"t":1801,"v":10.5},{"t":1810,"v":10.3},{"t":1819,"v":10.2},{"t":1841,"v":10.2},{"t":1847,"v":10.5},{"t":1850,"v":13.8},{"t":1862,"v":14.2},{"t":1865,"v":13.8},{"t":1868,"v":11.2},{"t":1871,"v":11.6},{"t":1877,"v":11.0},{"t":1887,"v":10.9},{"t":1896,"v":10.6},{"t":1908,"v":10.4},{"t":1917,"v":10.4},{"t":1926,"v":10.3},{"t":1939,"v":10.0},{"t":1942,"v":10.5},{"t":1945,"v":11.3},{"t":1947,"v":10.0},{"t":1954,"v":9.7},{"t":1962,"v":9.7},{"t":1968,"v":10.0},{"t":1974,"v":10.3},{"t":1977,"v":11.2},{"t":1983,"v":11.8},{"t":1996,"v":11.9},{"t":2002,"v":11.7},{"t":2011,"v":11.9},{"t":2023,"v":11.7},{"t":2029,"v":11.2},{"t":2035,"v":10.7},{"t":2041,"v":10.3},{"t":2047,"v":10.0},{"t":2050,"v":9.6},{"t":2056,"v":9.7},{"t":2071,"v":9.8},{"t":2078,"v":10.1},{"t":2087,"v":10.4},{"t":2096,"v":10.5},{"t":2102,"v":10.3},{"t":2111,"v":10.8},{"t":2123,"v":11.2},{"t":2129,"v":11.8},{"t":2138,"v":12.0},{"t":2151,"v":12.2},{"t":2160,"v":12.5},{"t":2166,"v":12.7},{"t":2172,"v":12.4}
]
},
"resolve":{"axis":{"x":"independent","y":"independent"}},
"layer":[
{"data":{"name":"obs"},
 "mark":{"type":"line","strokeWidth":1,"interpolate":"step-after","clip":true},
 "encoding":{
  "x":{"field":"t","type":"quantitative","scale":{"domain":[0,2172],"nice":false,"zero":false},
   "axis":{"orient":"bottom","title":null,"labels":false,"values":[0,24,48,72,96,120,144,168,192,216,240,264,288,312,336,360,384,408,432,456,480,504,528,552,576,600,624,648,672,696,720,744,768,792,816,840,864,888,912,936,960,984,1008,1032,1056,1080,1104,1128,1152,1176,1200,1224,1248,1272,1296,1320,1344,1368,1392,1416,1440,1464,1488,1512,1536,1560,1584,1608,1632,1656,1680,1704,1728,1752,1776,1800,1824,1848,1872,1896,1920,1944,1968,1992,2016,2040,2064,2088,2112,2136,2160],
    "tickSize":{"condition":{"test":"datum.value == 720 || datum.value == 1464","value":12},"value":5},
    "tickColor":"#222222","domainColor":"#222222","domainWidth":1.5,
    "grid":true,"gridColor":"#1f84f0","gridDash":[3,3],"gridWidth":1.5,
    "gridOpacity":{"condition":{"test":"datum.value == 720 || datum.value == 1464","value":1},"value":0}}},
  "y":{"field":"v","type":"quantitative","scale":{"domain":[2,22],"nice":false,"zero":false},
   "axis":{"orient":"left","title":null,"values":[2,4,6,8,10,12,14,16,18,20,22],"tickSize":6,"tickColor":"#222222","domainColor":"#222222","domainWidth":1.5,
    "labelFont":"Liberation Serif","labelFontSize":18,"labelColor":"#000000","labelPadding":5,
    "grid":true,"gridColor":"#1f84f0","gridDash":[3,3],"gridWidth":1.5,"gridOpacity":1}},
  "color":{"datum":"Observed Peak Wave Period [Sec]","type":"nominal",
   "scale":{"domain":["Observed Peak Wave Period [Sec]","Predicted: Peak Wave Period [Sec]"],"range":["#111111","#2a2af0"]},
   "legend":{"title":null,"orient":"none","legendX":774,"legendY":14.5,"symbolType":"M-2.5,0H2.5","symbolSize":225,"symbolStrokeWidth":2,
    "symbolOffset":326.5,"labelOffset":-302.5,"labelAlign":"left","labelFont":"Liberation Serif","labelFontSize":18.5,"labelColor":"#000000","labelLimit":0,"rowPadding":3,"padding":0}}
 }},
{"data":{"name":"pred"},
 "mark":{"type":"line","strokeWidth":1.2,"clip":true},
 "encoding":{
  "x":{"field":"t","type":"quantitative","scale":{"domain":[0,2172],"nice":false,"zero":false},
   "axis":{"orient":"bottom","title":null,"values":[303,1090,1810],"ticks":false,"domain":false,"grid":false,
    "labelExpr":"datum.value < 700 ? ['April','2017'] : datum.value < 1500 ? ['May','2017'] : ['June','2017']",
    "labelFont":"Liberation Serif","labelFontSize":18,"labelColor":"#000000","labelLineHeight":22,"labelPadding":12,"labelFlush":false,"labelOverlap":false}},
  "y":{"field":"v","type":"quantitative","scale":{"domain":[2,22],"nice":false,"zero":false},
   "axis":{"orient":"left","title":null,"labels":false,"domain":false,"grid":false,"tickSize":3,"tickColor":"#222222",
    "values":[2.25,2.5,2.75,3.25,3.5,3.75,4.25,4.5,4.75,5.25,5.5,5.75,6.25,6.5,6.75,7.25,7.5,7.75,8.25,8.5,8.75,9.25,9.5,9.75,10.25,10.5,10.75,11.25,11.5,11.75,12.25,12.5,12.75,13.25,13.5,13.75,14.25,14.5,14.75,15.25,15.5,15.75,16.25,16.5,16.75,17.25,17.5,17.75,18.25,18.5,18.75,19.25,19.5,19.75,20.25,20.5,20.75,21.25,21.5,21.75]}},
  "color":{"datum":"Predicted: Peak Wave Period [Sec]","type":"nominal",
   "scale":{"domain":["Observed Peak Wave Period [Sec]","Predicted: Peak Wave Period [Sec]"],"range":["#111111","#2a2af0"]}}
 }}
]
}
